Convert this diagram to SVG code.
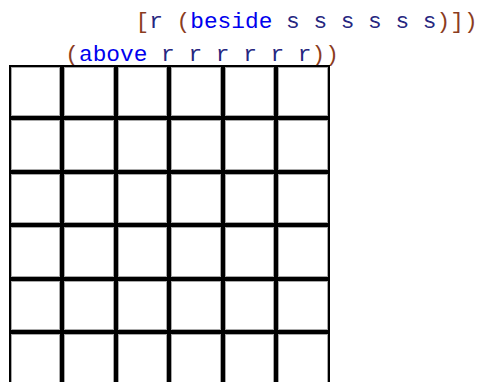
<svg xmlns="http://www.w3.org/2000/svg" width="484" height="382" viewBox="0 0 484 382">
<style>
text{font-family:"Liberation Mono","DejaVu Sans Mono",monospace;font-size:22.8px}
.p{fill:#8b3c1e}.k{fill:#0000ee}.i{fill:#262680}
.gr{fill:none;stroke:#a8a8a8;stroke-width:1}
.bk{fill:none;stroke:#000}
</style>
<rect width="484" height="382" fill="#fff"/>
<text x="135.5" y="28" xml:space="preserve"><tspan class="p">[</tspan><tspan class="i">r </tspan><tspan class="p">(</tspan><tspan class="k">beside</tspan><tspan class="i"> s s s s s s</tspan><tspan class="p">)])</tspan></text>
<text x="65.3" y="61" xml:space="preserve"><tspan class="p">(</tspan><tspan class="k">above</tspan><tspan class="i"> r r r r r r</tspan><tspan class="p">))</tspan></text>
<g id="grid">
<rect x="9" y="65" width="321" height="321" fill="#fff"/>
<path class="gr" d="M11.5 65V386M59.5 65V386M64.5 65V386M113.5 65V386M118.5 65V386M166.5 65V386M171.5 65V386M220.5 65V386M225.5 65V386M273.5 65V386M278.5 65V386M327.5 65V386"/>
<path class="gr" d="M9 67.5H330M9 115.5H330M9 120.5H330M9 169.5H330M9 174.5H330M9 222.5H330M9 227.5H330M9 276.5H330M9 281.5H330M9 329.5H330M9 334.5H330"/>
<path class="bk" stroke-width="2" d="M10 65V386M329 65V386M9 66H330"/>
<path class="bk" stroke-width="4" d="M62 65V386M116 65V386M169 65V386M223 65V386M276 65V386M9 118H330M9 172H330M9 225H330M9 279H330M9 332H330"/>
</g>
</svg>
